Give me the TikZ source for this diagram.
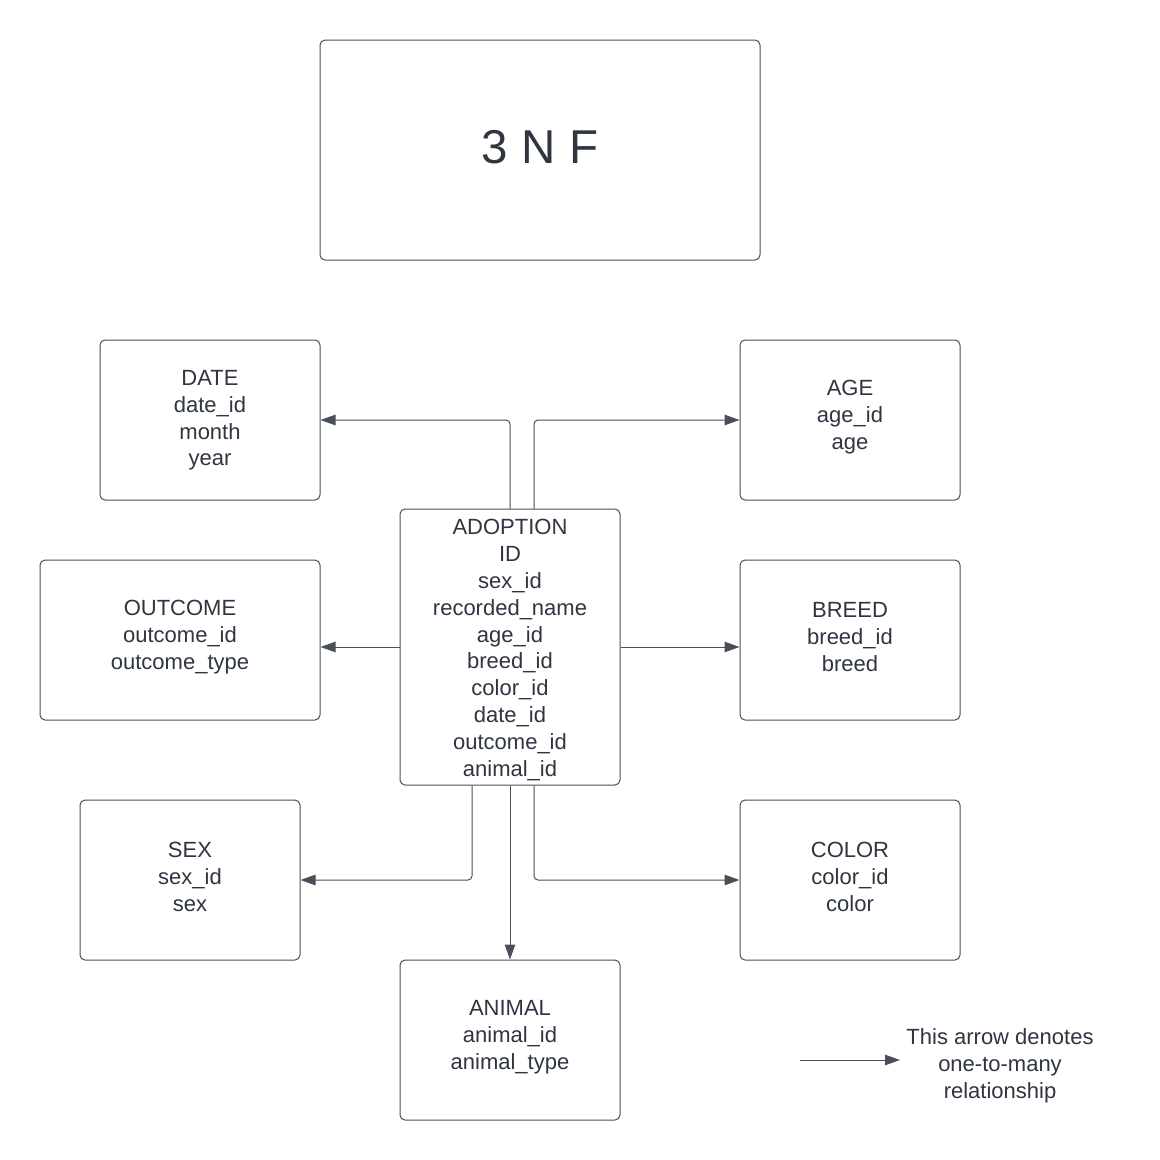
\documentclass[tikz,border=0pt]{standalone}
\usepackage{fontspec}
\setmainfont{Liberation Sans}
\usetikzlibrary{arrows.meta}
\definecolor{linec}{HTML}{4A4F57}
\definecolor{textc}{HTML}{2F3541}
\begin{document}
\begin{tikzpicture}[x=1pt,y=-1pt,
  box/.style={draw=linec, line width=1pt, rounded corners=5pt, minimum width=220pt, minimum height=160pt, inner sep=0pt},
  txt/.style={align=center, text=textc, inner sep=0pt, font=\fontsize{22}{26.8}\selectfont},
  arr/.style={draw=linec, line width=1pt, rounded corners=4pt, -{Triangle[length=15pt,width=10.5pt]}}]
\useasboundingbox (0,0) rectangle (1160,1160);
\fill[white] (0,0) rectangle (1160,1160);
\node[box, minimum width=440pt, minimum height=220pt] (title) at (540,150) {};
\node[txt, font=\fontsize{47.5}{50}\selectfont] (titletext) at (540,147) {3 N F};
\node[box] (date) at (210,420) {};
\node[txt] (datetext) at (210,420.5) {DATE\\date\_id\\month\\year};
\node[box] (age) at (850,420) {};
\node[txt] (agetext) at (850,417) {AGE\\age\_id\\age};
\node[box, minimum height=276pt] (adoption) at (510,647) {};
\node[txt] (adoptiontext) at (510,650) {ADOPTION\\ID\\sex\_id\\recorded\_name\\age\_id\\breed\_id\\color\_id\\date\_id\\outcome\_id\\animal\_id};
\node[box, minimum width=280pt] (outcome) at (180,640) {};
\node[txt] (outcometext) at (180,637) {OUTCOME\\outcome\_id\\outcome\_type};
\node[box] (breed) at (850,640) {};
\node[txt] (breedtext) at (850,637) {BREED\\breed\_id\\breed};
\node[box] (sex) at (190,880) {};
\node[txt] (sextext) at (190,877) {SEX\\sex\_id\\sex};
\node[box] (color) at (850,880) {};
\node[txt] (colortext) at (850,877) {COLOR\\color\_id\\color};
\node[box] (animal) at (510,1040) {};
\node[txt] (animaltext) at (510,1037) {ANIMAL\\animal\_id\\animal\_type};
\draw[arr] (adoption.north) |- (date.east |- 0,420);
\draw[arr] ([xshift=24pt]adoption.north) |- (age.west |- 0,420);
\draw[arr] (adoption.west |- 0,647) -- (outcome.east |- 0,647);
\draw[arr] (adoption.east |- 0,647) -- (breed.west |- 0,647);
\draw[arr] ([xshift=-38pt]adoption.south) |- (sex.east);
\draw[arr] ([xshift=24pt]adoption.south) |- (color.west);
\draw[arr] (adoption.south) -- (animal.north);
\coordinate (l1) at (800,1060);
\coordinate (l2) at (900,1060);
\draw[arr] (l1) -- (l2);
\node[txt] (legend) at (1000,1066) {This arrow denotes\\one-to-many\\relationship};
\end{tikzpicture}
\end{document}
